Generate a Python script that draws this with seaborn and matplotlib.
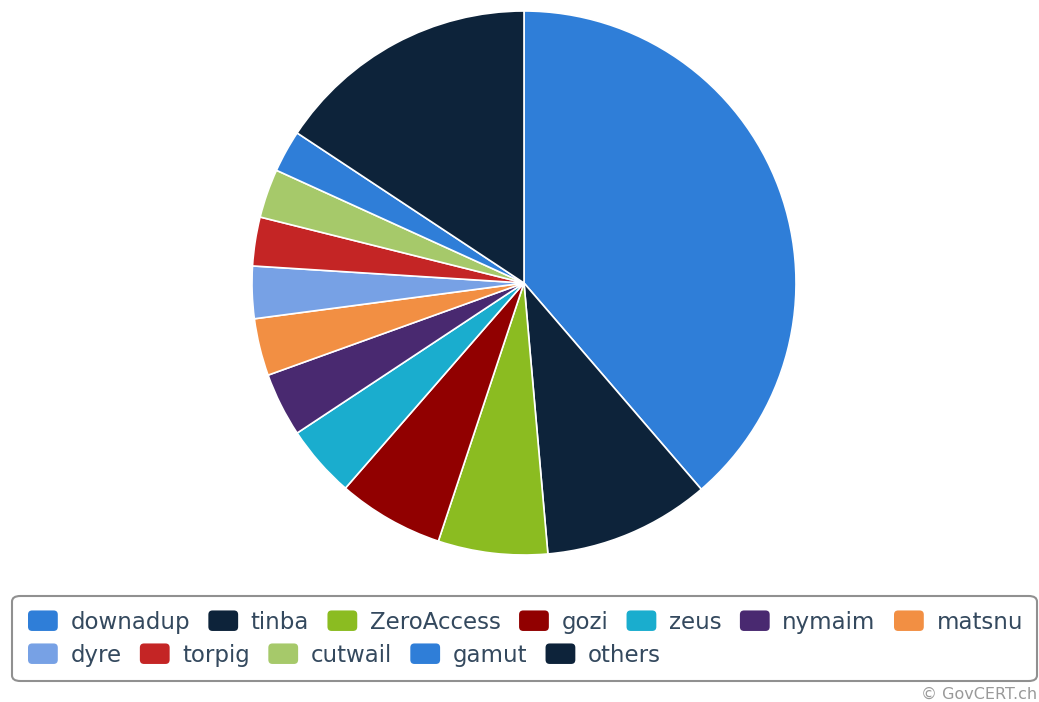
import matplotlib
matplotlib.use("Agg")
import matplotlib.pyplot as plt
import seaborn as sns
from matplotlib.patches import Patch, FancyBboxPatch
from matplotlib.legend_handler import HandlerPatch

# share of detections per malware family (%)
families = ["downadup", "tinba", "ZeroAccess", "gozi", "zeus", "nymaim",
            "matsnu", "dyre", "torpig", "cutwail", "gamut", "others"]
shares = [38.7, 9.9, 6.5, 6.3, 4.3, 3.8, 3.4, 3.1, 2.9, 2.9, 2.5, 15.7]
colors = ["#2f7ed8", "#0d233a", "#8bbc21", "#910000", "#1aadce", "#492970",
          "#f28f43", "#77a1e5", "#c42525", "#a6c96a", "#2f7ed8", "#0d233a"]

sns.set_theme(style="white")
plt.rcParams["font.family"] = ["DejaVu Sans"]
palette = sns.color_palette(colors)

fig = plt.figure(figsize=(10.39, 7.02), dpi=100)
# pie centred at (524, 283) px with radius ~272 px
r_px = 272
ax = fig.add_axes([(524 - r_px) / 1039, (702 - 283 - r_px) / 702,
                   2 * r_px / 1039, 2 * r_px / 702])
ax.pie(shares, colors=palette, startangle=90, counterclock=False,
       radius=1.0, wedgeprops=dict(edgecolor="white", linewidth=1.2))
ax.set_xlim(-1, 1)
ax.set_ylim(-1, 1)
ax.set_aspect("equal")
ax.axis("off")


def rounded_box(legend, orig_handle, xdescent, ydescent, width, height, fontsize):
    return FancyBboxPatch((-xdescent, -ydescent), width, height,
                          boxstyle="round,pad=0,rounding_size=3")


handles = [Patch(facecolor=c, edgecolor="none") for c in palette]
leg_kw = dict(frameon=False, fontsize=16.5, borderpad=0, borderaxespad=0,
              handlelength=1.3, handleheight=1.0, handletextpad=0.55,
              columnspacing=0.8, labelcolor="#34495e",
              handler_map={Patch: HandlerPatch(patch_func=rounded_box)})

row1 = fig.legend(handles[:7], families[:7], ncol=7, loc="center left",
                  bbox_to_anchor=(28 / 1039, 1 - 622 / 702), **leg_kw)
row2 = fig.legend(handles[7:], families[7:], ncol=5, loc="center left",
                  bbox_to_anchor=(28 / 1039, 1 - 655 / 702), **leg_kw)
for lg in (row1, row2):
    for h in lg.legend_handles:
        h.set_edgecolor("none")
        h.set_linewidth(0)

# legend frame
frame = FancyBboxPatch((12 / 1039, 1 - 681 / 702), (1037 - 12) / 1039, 85 / 702,
                       boxstyle="round,pad=0,rounding_size=0.008",
                       transform=fig.transFigure, facecolor="none",
                       edgecolor="#909090", linewidth=1.5)
fig.patches.append(frame)

fig.text(1037 / 1039, 1 - 694 / 702, "© GovCERT.ch", ha="right", va="center",
         fontsize=11.5, color="#999999")

fig.savefig("out.png", dpi=100)
